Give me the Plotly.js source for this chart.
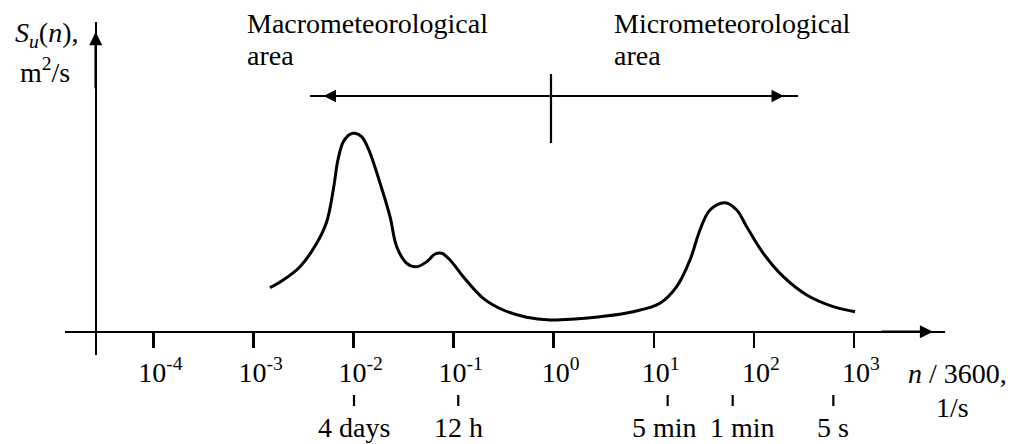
<!DOCTYPE html>
<html><head><meta charset="utf-8">
<script src="https://cdn.plot.ly/plotly-3.0.1.min.js"></script>
<style>html,body{margin:0;padding:0;background:#fff}#chart{width:1010px;height:444px}</style>
</head><body><div id="chart"></div>
<script>
// Spectrum curve: x = log10(n/3600), y = S_u(n) (arbitrary units)
const curveLogN = [-2.836,-2.703,-2.536,-2.369,-2.269,-2.203,-2.156,-2.103,-2.036,-1.986,-1.920,-1.853,-1.736,-1.636,-1.569,-1.469,-1.369,-1.269,-1.186,-1.119,-1.036,-0.904,-0.704,-0.504,-0.270,-0.037,0.213,0.463,0.796,1.062,1.229,1.362,1.462,1.562,1.712,1.829,1.929,2.095,2.295,2.529,2.795,3.012];
const curveS    = [0.440,0.517,0.650,0.884,1.100,1.420,1.720,1.900,1.975,1.984,1.950,1.830,1.487,1.150,0.850,0.684,0.650,0.700,0.777,0.784,0.717,0.550,0.334,0.217,0.144,0.117,0.127,0.150,0.200,0.284,0.450,0.717,1.017,1.217,1.290,1.217,1.050,0.784,0.550,0.367,0.250,0.200];

const decadeExps   = [-4,-3,-2,-1,0,1,2,3];
const decadeLabels = decadeExps.map(e => '10<sup>' + e + '</sup>');

const periodLabels = ['4 days','12 h','5 min','1 min','5 s'];
const periodLogN   = [-1.996,-0.954,1.139,1.789,2.795];

const regionLabels = ['Macrometeorological','Micrometeorological'];
const regionBoundaryLogN = -0.027;

// ---- layout helpers (pixel -> paper / data) ----
const W = 1010, H = 444;
const X0PX = 553.7, DEC = 100.05;   // pixel of 10^0, pixels per decade
const Y0PX = 331.7, YSC = 100;      // pixel of S=0, pixels per unit
const lx = p => (p - X0PX) / DEC;
const ly = p => (Y0PX - p) / YSC;
const PX = p => p / W;
const PY = p => (H - p) / H;

const FONT = '"Liberation Serif","Times New Roman",serif';
const FS = 28;

const shapes = [];
const annotations = [];

// region separator and double arrow line
shapes.push({type:'line', xref:'x', yref:'y', x0:regionBoundaryLogN, x1:regionBoundaryLogN, y0:ly(143), y1:ly(74), line:{color:'#000', width:2.2}});
shapes.push({type:'line', xref:'x', yref:'y', x0:lx(310), x1:lx(798), y0:ly(96), y1:ly(96), line:{color:'#000', width:2}});
annotations.push({xref:'x', yref:'y', axref:'x', ayref:'y', x:lx(784), y:ly(96), ax:lx(322), ay:ly(96), text:'', showarrow:true, arrowhead:2, startarrowhead:2, arrowside:'end+start', arrowsize:1.25, startarrowsize:1.25, arrowwidth:2, arrowcolor:'#000'});

// axis arrowheads
annotations.push({xref:'x', yref:'y', axref:'x', ayref:'y', x:lx(933), y:0, ax:lx(880), ay:0, text:'', showarrow:true, arrowhead:2, arrowsize:1.05, arrowwidth:2.5, arrowcolor:'#000'});
annotations.push({xref:'x', yref:'y', axref:'x', ayref:'y', x:lx(95.7), y:ly(32), ax:lx(95.7), ay:ly(90), text:'', showarrow:true, arrowhead:2, arrowsize:1.05, arrowwidth:2.5, arrowcolor:'#000'});

// region labels
const regionLeftPx = [245, 612];
regionLabels.forEach((t, i) => {
  annotations.push({xref:'paper', yref:'paper', x:PX(regionLeftPx[i]), y:PY(23.5), xanchor:'left', yanchor:'middle', text:t, showarrow:false, font:{family:FONT, size:FS, color:'#000'}});
  annotations.push({xref:'paper', yref:'paper', x:PX(regionLeftPx[i]), y:PY(55.5), xanchor:'left', yanchor:'middle', text:'area', showarrow:false, font:{family:FONT, size:FS, color:'#000'}});
});

// period marks below the axis
periodLabels.forEach((t, i) => {
  shapes.push({type:'line', xref:'x', yref:'paper', x0:periodLogN[i], x1:periodLogN[i], y0:PY(406), y1:PY(395), line:{color:'#000', width:2.2}});
  annotations.push({xref:'x', yref:'paper', x:periodLogN[i], y:PY(427.5), xanchor:'center', yanchor:'middle', xshift:(t === '1 min' ? 10 : (t === '5 min' ? -3 : 0)), text:t, showarrow:false, font:{family:FONT, size:FS, color:'#000'}});
});

// axis titles
annotations.push({xref:'paper', yref:'paper', x:PX(46), y:PY(35), xanchor:'center', yanchor:'middle', text:'<i>S<sub>u</sub></i>(<i>n</i>),', showarrow:false, font:{family:FONT, size:FS, color:'#000'}});
annotations.push({xref:'paper', yref:'paper', x:PX(44.5), y:PY(70), xanchor:'center', yanchor:'middle', text:'m<sup>2</sup>/s', showarrow:false, font:{family:FONT, size:FS, color:'#000'}});
annotations.push({xref:'paper', yref:'paper', x:PX(957), y:PY(373.5), xanchor:'center', yanchor:'middle', text:'<i>n</i> / 3600,', showarrow:false, font:{family:FONT, size:FS, color:'#000'}});
annotations.push({xref:'paper', yref:'paper', x:PX(952), y:PY(407.5), xanchor:'center', yanchor:'middle', text:'1/s', showarrow:false, font:{family:FONT, size:FS, color:'#000'}});

const trace = {x:curveLogN, y:curveS, type:'scatter', mode:'lines', line:{color:'#000', width:3, shape:'spline', smoothing:1}, hoverinfo:'skip'};

const layout = {
  width:W, height:H, margin:{l:0, r:0, t:0, b:0},
  paper_bgcolor:'#fff', plot_bgcolor:'rgba(0,0,0,0)', showlegend:false,
  xaxis:{domain:[PX(65), PX(945)], range:[lx(65), lx(945)], anchor:'free', position:PY(Y0PX),
         showline:true, linecolor:'#000', linewidth:2.5, showgrid:false, zeroline:false,
         ticks:'outside', ticklen:15, tickwidth:2.5, tickcolor:'#000',
         tickmode:'array', tickvals:decadeExps, ticktext:decadeLabels,
         ticklabelshift:7, ticklabelstandoff:0,
         tickfont:{family:FONT, size:FS, color:'#000'}, fixedrange:true},
  yaxis:{domain:[PY(355), PY(22)], range:[ly(355), ly(22)], anchor:'free', position:PX(95.7),
         showline:true, linecolor:'#000', linewidth:2.5, showgrid:false, zeroline:false,
         ticks:'', showticklabels:false, fixedrange:true},
  shapes:shapes, annotations:annotations, hovermode:false
};
Plotly.newPlot('chart', [trace], layout, {staticPlot:true, displayModeBar:false});
</script></body></html>
